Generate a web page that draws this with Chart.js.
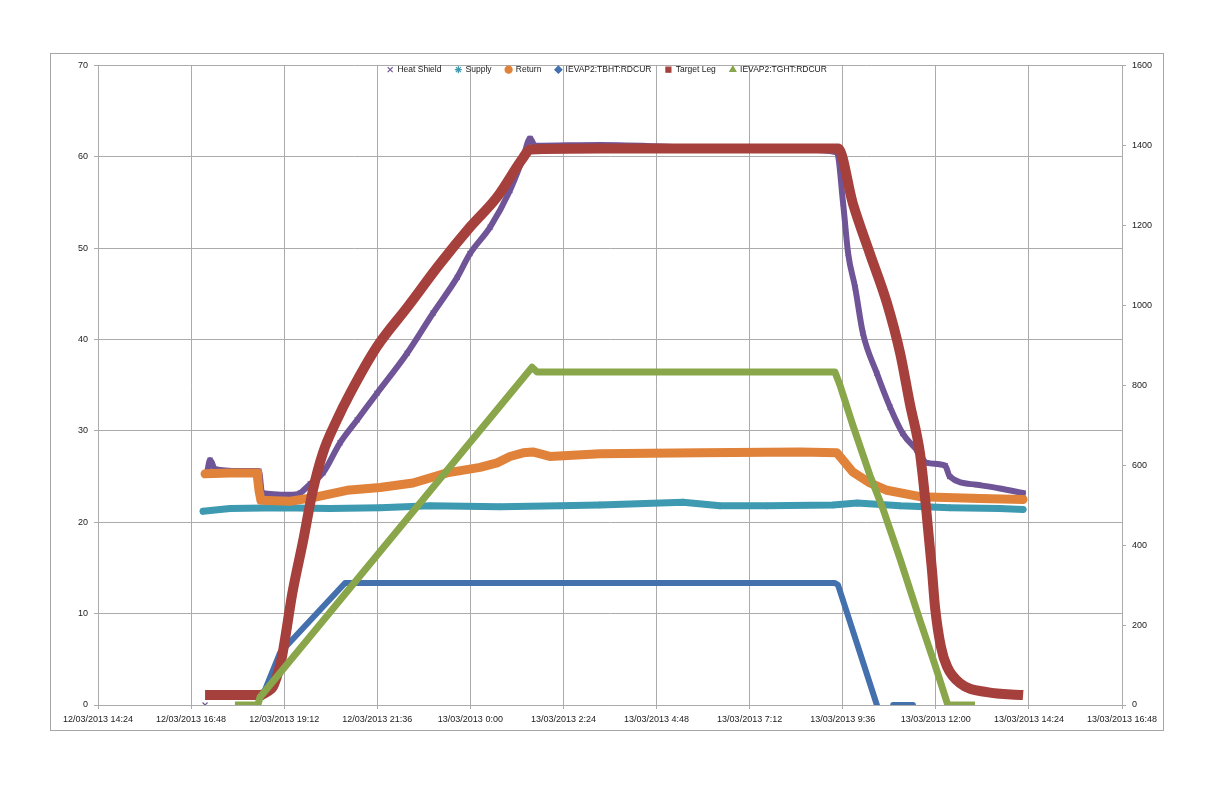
<!DOCTYPE html>
<html>
<head>
<meta charset="utf-8">
<script src="https://cdn.jsdelivr.net/npm/chart.js@4/dist/chart.umd.min.js"></script>
<style>
  html, body { margin: 0; padding: 0; background: #fff; }
  #frame {
    position: absolute; left: 50px; top: 53px;
    width: 1112px; height: 676px;
    border: 1px solid #a6a6a6;
  }
  #chart { display: block; }
</style>
</head>
<body>
<div id="frame"><canvas id="chart" width="1112" height="676"></canvas></div>
<script>
// 시간축: 12/03/2013 00:00 기준 시간(h)
const xTickHours = [14.4, 16.8, 19.2, 21.6, 24, 26.4, 28.8, 31.2, 33.6, 36, 38.4, 40.8];
const xTickLabels = ['12/03/2013 14:24', '12/03/2013 16:48', '12/03/2013 19:12', '12/03/2013 21:36',
    '13/03/2013 0:00', '13/03/2013 2:24', '13/03/2013 4:48', '13/03/2013 7:12',
    '13/03/2013 9:36', '13/03/2013 12:00', '13/03/2013 14:24', '13/03/2013 16:48'];

const seriesNames = ['Heat Shield', 'Supply', 'Return', 'IEVAP2:TBHT:RDCUR', 'Target Leg', 'IEVAP2:TGHT:RDCUR'];

// Heat Shield (좌측 축)
const heatShieldTime = [17.16, 17.17, 17.21, 17.29, 17.42, 18.06, 18.55, 18.63, 19.35, 19.61, 19.87, 20.20, 20.64,
    21.08, 21.59, 22.37, 23.04, 23.66, 23.99, 24.51, 25.02, 25.36, 25.54, 25.67, 27.34, 29.92, 32.50,
    33.45, 33.61, 33.74, 33.92, 34.12, 34.48, 34.82, 35.15, 35.51, 35.77, 36.24, 36.36, 37.06, 37.65, 38.25];
const heatShieldTemp = [0, null, 25.4, 26.8, 25.8, 25.6, 25.6, 23.2, 23.0, 23.2, 24.2, 25.4, 28.7,
    31.2, 34.1, 38.5, 42.9, 46.8, 49.4, 52.3, 56.3, 59.9, 62.0, 61.2, 61.3, 61.0, 60.8,
    60.5, 54.9, 49.4, 45.7, 40.7, 36.3, 32.6, 29.7, 27.9, 26.5, 26.2, 25.0, 24.1, 23.7, 23.2];

// Supply (좌측 축)
const supplyTime = [17.11, 17.80, 19.09, 20.38, 21.67, 22.96, 24.76, 26.31, 27.34, 29.48, 30.44, 31.65,
    33.35, 33.97, 35.08, 36.36, 37.65, 38.25];
const supplyTemp = [21.2, 21.5, 21.6, 21.5, 21.6, 21.8, 21.7, 21.8, 21.9, 22.2, 21.8, 21.8,
    21.9, 22.1, 21.8, 21.6, 21.5, 21.4];

// Return (좌측 축)
const returnTime = [17.16, 17.80, 18.50, 18.52, 18.55, 18.60, 19.35, 19.94, 20.82, 21.67, 22.52, 23.40,
    24.25, 24.69, 25.02, 25.36, 25.61, 26.05, 27.34, 29.92, 32.50, 33.45, 33.86, 34.30, 34.74,
    35.59, 37.14, 38.25];
const returnTemp = [25.3, 25.4, 25.4, 24.6, 23.5, 22.4, 22.3, 22.7, 23.5, 23.8, 24.3, 25.4,
    26.0, 26.5, 27.2, 27.6, 27.7, 27.2, 27.5, 27.6, 27.7, 27.6, 25.5, 24.3, 23.5,
    22.8, 22.6, 22.5];

// IEVAP2:TBHT:RDCUR (우측 축)
const tbhtTime = [18.63, 19.09, 20.77, 27.34, 33.40, 33.48, 34.48, 34.70, 34.90, 35.41];
const tbhtValue = [20, 130, 305, 305, 305, 300, 0, null, 0, 0];

// Target Leg (좌측 축)
const targetLegTime = [17.16, 17.80, 18.52, 18.58, 18.78, 18.91, 19.04, 19.14, 19.27, 19.40, 19.69, 19.94,
    20.20, 20.56, 20.90, 21.59, 22.37, 23.22, 23.99, 24.69, 25.36, 25.54, 27.34, 29.92, 33.48,
    33.86, 34.30, 34.74, 35.08, 35.33, 35.59, 35.75, 35.90, 35.98, 36.13, 36.29, 36.62, 37.32, 38.25];
const targetLegTemp = [1.1, 1.1, 1.1, 1.1, 1.5, 2.0, 3.5, 5.2, 8.5, 12.0, 18.0, 23.5,
    27.6, 31.2, 34.1, 39.2, 43.5, 48.3, 52.3, 55.6, 59.9, 60.8, 60.9, 60.9, 60.9,
    54.9, 49.4, 44.0, 38.5, 33.0, 27.6, 21.5, 14.8, 10.7, 6.4, 4.2, 2.4, 1.4, 1.1];

// IEVAP2:TGHT:RDCUR (우측 축)
const tghtTime = [17.93, 18.52, 18.58, 25.59, 25.72, 29.92, 33.40, 33.53, 33.86, 34.30, 34.64, 35.08,
    35.59, 35.98, 36.31, 37.01];
const tghtValue = [0, 0, 20, 845, 833, 833, 833, 800, 700, 575, 490, 365,
    212, 100, 0, 0];

const colors = ['#6F5597', '#3E9AB1', '#E0823A', '#4470AD', '#A6403D', '#89A74A'];

function toPoints(xs, ys) {
    return xs.map((x, i) => ({ x: x, y: ys[i] }));
}

function makeDataset(i, xs, ys, axis, opts) {
    return Object.assign({
        label: seriesNames[i],
        data: toPoints(xs, ys),
        yAxisID: axis,
        showLine: true,
        borderColor: colors[i],
        backgroundColor: colors[i],
        pointBorderColor: colors[i],
        pointBackgroundColor: colors[i],
        borderJoinStyle: 'round',
        borderCapStyle: 'round',
        order: 6 - i
    }, opts);
}

const tickFont = { family: 'Liberation Sans', size: 9 };
const legendFont = { family: 'Liberation Sans', size: 8.5 };
const gridColor = '#ABABAB';

function init() {
    const datasets = [
        makeDataset(0, heatShieldTime, heatShieldTemp, 'y', { borderWidth: 6, pointStyle: 'crossRot', pointRadius: 3.5, pointBorderWidth: 1.2, cubicInterpolationMode: 'monotone' }),
        makeDataset(1, supplyTime, supplyTemp, 'y', { borderWidth: 7, pointStyle: 'star', pointRadius: 3.5, pointBorderWidth: 1 }),
        makeDataset(2, returnTime, returnTemp, 'y', { borderWidth: 9, pointStyle: 'circle', pointRadius: 0 }),
        makeDataset(3, tbhtTime, tbhtValue, 'y1', { borderWidth: 6, pointStyle: 'rectRot', pointRadius: 0 }),
        makeDataset(4, targetLegTime, targetLegTemp, 'y', { borderWidth: 10, pointStyle: 'rect', pointRadius: 0, borderCapStyle: 'butt', cubicInterpolationMode: 'monotone' }),
        makeDataset(5, tghtTime, tghtValue, 'y1', { borderWidth: 7, pointStyle: 'triangle', pointRadius: 0, borderCapStyle: 'butt' })
    ];

    // 범례는 공간을 차지하지 않고 플롯 위쪽 경계에 겹치게
    const legendOverlay = {
        id: 'legendOverlay',
        afterInit(chart) {
            const lg = chart.legend;
            const fit = lg.fit.bind(lg);
            lg.fit = function () { fit(); this.height = 0; };
        },
        afterLayout(chart) {
            const lg = chart.legend;
            lg.top = chart.chartArea.top - 14;
            lg.height = 30;
            lg.bottom = lg.top + 30;
        }
    };

    new Chart(document.getElementById('chart'), {
        type: 'scatter',
        data: { datasets: datasets },
        plugins: [legendOverlay],
        options: {
            responsive: false,
            animation: false,
            layout: { padding: { left: 0, right: 0, top: 11, bottom: 0 } },
            plugins: {
                tooltip: { enabled: false },
                legend: {
                    position: 'top',
                    align: 'center',
                    labels: {
                        usePointStyle: true,
                        boxWidth: 6,
                        boxHeight: 5,
                        padding: 14,
                        color: '#1a1a1a',
                        font: legendFont,
                        sort: (a, b) => a.datasetIndex - b.datasetIndex,
                        generateLabels(chart) {
                            const items = Chart.defaults.plugins.legend.labels.generateLabels(chart);
                            items.forEach(item => {
                                item.lineWidth = 1.2;
                                item.fillStyle = colors[item.datasetIndex];
                                item.strokeStyle = colors[item.datasetIndex];
                            });
                            return items;
                        }
                    }
                }
            },
            scales: {
                x: {
                    type: 'linear',
                    min: 14.4,
                    max: 40.8,
                    afterBuildTicks(scale) {
                        scale.ticks = xTickHours.map(v => ({ value: v }));
                    },
                    afterFit(scale) {
                        scale.height = 25;
                        scale.paddingLeft = 0;
                        scale.paddingRight = 0;
                    },
                    grid: { color: gridColor, tickLength: 4, tickColor: gridColor },
                    border: { color: gridColor },
                    ticks: {
                        autoSkip: false,
                        maxRotation: 0,
                        padding: 5,
                        color: '#1a1a1a',
                        font: tickFont,
                        callback: (value, index) => xTickLabels[index]
                    }
                },
                y: {
                    position: 'left',
                    min: 0,
                    max: 70,
                    afterFit(scale) { scale.width = 47; },
                    grid: { color: gridColor, tickLength: 4, tickColor: gridColor },
                    border: { color: gridColor },
                    ticks: { stepSize: 10, padding: 6, color: '#1a1a1a', font: tickFont }
                },
                y1: {
                    position: 'right',
                    min: 0,
                    max: 1600,
                    afterFit(scale) { scale.width = 41; },
                    grid: { drawOnChartArea: false, tickLength: 4, tickColor: gridColor },
                    border: { color: gridColor },
                    ticks: { stepSize: 200, padding: 6, color: '#1a1a1a', font: tickFont, callback: v => String(v) }
                }
            }
        }
    });
}

document.addEventListener('DOMContentLoaded', init);
</script>
</body>
</html>
